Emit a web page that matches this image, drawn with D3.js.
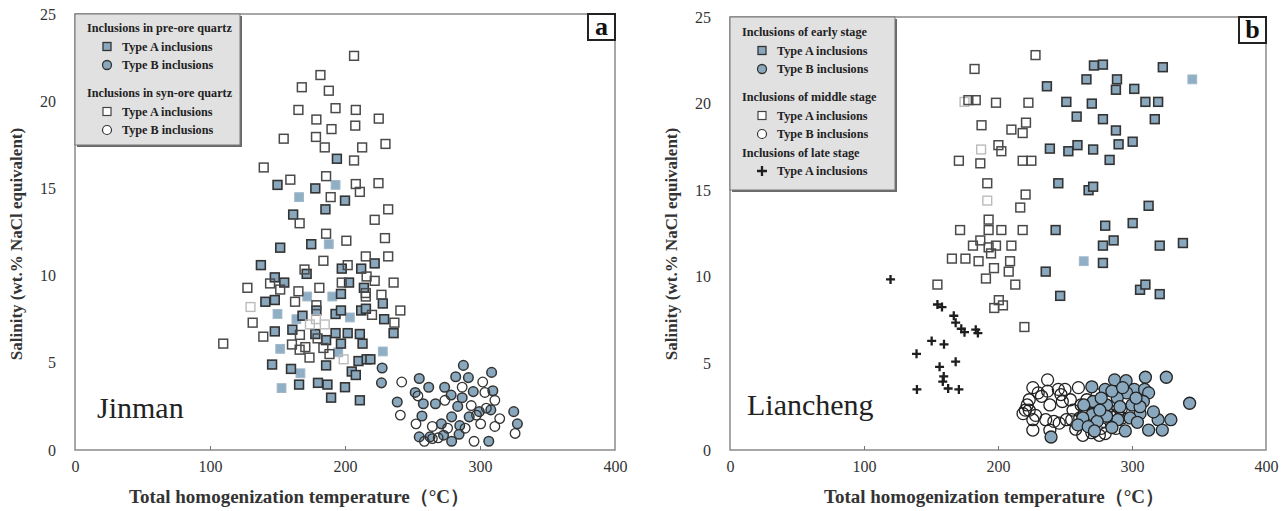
<!DOCTYPE html>
<html>
<head>
<meta charset="utf-8">
<script src="https://cdn.jsdelivr.net/npm/d3@7"></script>
<style>
  body { margin: 0; background: #fff; }
  svg { display: block; }
  text { font-family: "Liberation Serif", "DejaVu Serif", serif; }
</style>
</head>
<body>
<script>
// ---- data: [temperature °C, salinity wt.%] ----

// panel a, Jinman, pre-ore quartz
var aPreA = [[150,15.2],[178,15.0],[194,16.7],[185.5,13.8],[200,14.3],[161.6,13.5],[175,11.8],[152,11.6],
  [137.7,10.6],[171.6,10.1],[148,9.9],[155,9.6],[197.6,10.4],[212,10.4],[222,10.7],[203,9.6],[197,8.95],
  [214,9.3],[141,8.5],[148,8.6],[178.8,8.0],[168.5,7.7],[193,7.8],[197,8.0],[212,8.0],[215.5,8.1],
  [228,8.4],[229,7.5],[148,6.8],[161,6.9],[178,6.65],[186,6.3],[193,6.7],[202,6.7],[211,6.65],[213,6.1],
  [236,6.7],[197,6.1],[146,4.9],[160,4.65],[186,4.85],[210,5.1],[216,5.2],[218.8,5.2],[205,4.5],[208,4.3],
  [166,3.75],[180,3.85],[187,3.75],[200,3.6],[189.7,3.0],[211,2.85]];
var aPreALight = [[193,15.2],[166,14.5],[188,11.8],[172,8.8],[190.6,8.8],[150,7.8],[164,7.5],[203.6,7.6],
  [152,5.8],[195,5.6],[228,5.65],[167,4.4],[153,3.55]];
var aPreB = [[227.5,4.7],[227,3.85],[238.7,2.75],[255,4.1],[252,3.3],[262,3.6],[258,2.65],[257,1.95],
  [267,2.65],[273.8,3.6],[278.6,3.15],[282,4.2],[287.7,4.85],[291.4,4.15],[295,3.35],[308.6,4.45],
  [309.5,3.4],[283.5,2.5],[286.8,3.0],[325,2.2],[327.7,1.5],[271.4,1.5],[273,0.85],[279,1.9],[285,1.4],
  [279,0.5],[284.5,0.9],[263,0.75],[255,0.75],[306.5,0.5],[292,1.9],[308,2.3],[299.5,2.2]];

// panel a, Jinman, syn-ore quartz
var aSynA = [[206.7,22.6],[181.8,21.5],[168,20.8],[188,20.6],[165.5,19.5],[193,19.6],[208,19.5],
  [178.8,18.95],[225,19.0],[190,18.4],[207.6,18.6],[154.6,17.85],[178.5,17.95],[185,17.35],[212.7,17.35],
  [230,17.55],[206.7,16.6],[139.8,16.2],[159.5,15.5],[186,15.7],[208,15.25],[211,14.8],[224.8,15.3],
  [189.4,14.5],[232,13.8],[222,13.2],[166.4,13.0],[186,12.4],[201,12.0],[229.6,12.15],[215.4,11.1],
  [232,11.1],[184,10.85],[170,10.35],[202,10.6],[216,9.95],[127.7,9.3],[144.5,9.55],[152,9.2],
  [165.5,9.1],[181,9.3],[197.6,9.6],[222,9.7],[236,9.6],[215.4,9.0],[215.4,8.8],[227,8.9],[163,8.5],
  [178.8,8.3],[241,8.0],[220,7.75],[131.6,7.3],[166.6,6.6],[236.6,7.3],[139.5,6.5],[179.7,6.4],
  [109.8,6.1],[160.7,6.05],[166.4,5.75],[170.6,5.9],[184,5.85],[188.5,5.5],[173.7,5.3]];
var aSynALight = [[130,8.2],[178.5,7.5],[174,7.2],[185,7.2],[199,5.2]];
var aSynB = [[242,3.9],[241,2.0],[252.6,1.5],[254,3.1],[258.8,0.5],[264.7,1.35],[269,0.7],[274,2.85],
  [286.8,3.6],[293.5,2.55],[302,3.9],[303.6,3.3],[311,2.85],[314.6,1.8],[311,1.35],[300.5,1.5],
  [295.6,0.5],[326,0.95],[289,1.25],[297.4,2.0],[304.7,2.4],[276,1.25],[264.7,0.65]];

// panel b, Liancheng
var bEarlyA = [[271.6,22.2],[278.3,22.25],[323,22.1],[236.5,21.0],[266,21.4],[288.8,21.4],[288,20.8],
  [301.7,20.85],[251,20.1],[270,20.0],[310,20.1],[319.5,20.1],[258.7,19.25],[278.3,19.1],[317,19.1],
  [288,18.45],[238.7,17.4],[259.3,17.6],[252.5,17.25],[271,17.35],[290,17.65],[300.5,17.8],[283.3,16.75],
  [245,15.4],[267.6,15.0],[271,15.2],[312.4,14.1],[300.5,13.1],[280,12.95],[243,12.7],[286.3,12.1],
  [278.3,11.8],[320.7,11.8],[338,11.95],[278.3,10.8],[235.6,10.3],[246.4,8.9],[306,9.25],[310,9.55],
  [320.7,9.0]];
var bEarlyALight = [[345,21.4],[264,10.9]];
var bEarlyB = [[325.6,4.2],[310,4.2],[343,2.7],[287,4.05],[295.6,4.0],[301.7,3.5],[309.4,3.5],[312.4,3.3],
  [296,3.3],[289,3.0],[280,3.5],[270,3.65],[271,2.8],[281,2.6],[291,2.5],[300,2.6],[308.5,2.8],[306,2.1],
  [298.6,1.85],[289.4,1.75],[281,1.95],[270.3,2.05],[263.3,1.85],[259.6,1.45],[274,1.65],[267.3,1.35],
  [319.5,1.75],[329,1.75],[312.4,1.15],[322.6,1.15],[239.6,0.75],[306,2.5],[277,3.0],[285,3.4],
  [293,3.6],[303,3.0],[316,2.2],[276,2.3],[285,1.3],[295,1.1],[304,1.6],[264,2.6],[272,1.1]];
var bMidA = [[228,22.8],[182.5,22.0],[177.9,20.2],[183.4,20.2],[198.5,20.05],[222.7,20.05],[187.7,18.75],
  [210,18.5],[218.4,18.3],[220.9,18.9],[200.3,17.6],[202.5,17.25],[170.8,16.7],[186.8,16.55],[218.4,16.7],
  [224.9,16.7],[192,15.4],[220.6,14.75],[216.6,14.0],[193,13.3],[171.7,12.7],[193,12.7],[202.5,12.7],
  [218.4,12.7],[186.8,12.1],[181.3,11.8],[193,11.7],[198.5,11.8],[210,11.8],[194.8,11.35],[165.6,11.05],
  [175.7,11.05],[185.5,10.9],[209,10.9],[197,10.5],[208,10.3],[191,9.9],[154.8,9.55],[212.9,9.55],
  [200.6,8.65],[197.2,8.2],[203.7,8.35],[219.7,7.1]];
var bMidALight = [[175,20.1],[187.4,17.35],[192,14.4]];
var bMidB = [[237,4.05],[226,3.6],[245,3.5],[250,3.5],[260,3.6],[254,2.9],[237,3.4],[232.5,3.1],
  [223.3,2.9],[221.8,2.6],[220.4,2.3],[218.7,2.1],[223.3,2.3],[238.7,2.6],[248,2.8],[235.6,1.75],
  [226,1.75],[226,1.15],[238.7,1.15],[245.7,1.55],[255,1.75],[263.3,0.85],[275.6,0.85],[284.8,1.45],
  [278.6,1.65],[266.3,2.2],[261,1.85],[271,1.75],[283.3,2.05],[278.6,2.3],[272.4,2.5],[266.3,2.9],
  [292.5,1.85],[289.4,2.1],[283.3,2.8],[274,3.2],[289.4,3.5],[241.7,1.65],[251,1.75],[268,1.45],
  [277,1.25],[288,1.25],[230,3.3],[228,2.0],[247,3.2],[256,2.3],[262,2.6],[270,1.0],[280,0.95],
  [285,1.9],[292,2.4],[258,1.2]];
var bLateA = [[119.8,9.85],[154.8,8.4],[158.2,8.25],[167,7.75],[168.4,7.35],[172.6,7.0],[175,6.8],
  [183.4,6.95],[185,6.75],[150.5,6.3],[159.7,6.1],[139.2,5.55],[168.4,5.1],[156.4,4.8],[159.5,4.25],
  [158.8,3.95],[162.8,3.55],[139.5,3.5],[170.8,3.5]];

var xTicks = [0, 100, 200, 300, 400];
var yTicks = [0, 5, 10, 15, 20, 25];

var legendA = [
  {text: "Inclusions in pre-ore quartz", head: true},
  {text: "Type A  inclusions", mark: "sqFill"},
  {text: "Type  B  inclusions", mark: "ciFill"},
  {text: "Inclusions in syn-ore quartz", head: true, gap: true},
  {text: "Type A  inclusions", mark: "sqOpen"},
  {text: "Type  B  inclusions", mark: "ciOpen"}
];
var legendB = [
  {text: "Inclusions of early stage", head: true},
  {text: "Type A  inclusions", mark: "sqFill"},
  {text: "Type  B  inclusions", mark: "ciFill"},
  {text: "Inclusions of middle stage", head: true, gap: true},
  {text: "Type A  inclusions", mark: "sqOpen"},
  {text: "Type  B  inclusions", mark: "ciOpen"},
  {text: "Inclusions of late stage", head: true},
  {text: "Type A  inclusions", mark: "cross"}
];

var W = 1284, H = 511;
var blue = "#8aa8bd";

var svg = d3.select("body").append("svg")
  .attr("width", W)
  .attr("height", H);

// draw the markers
var squares = function(g, data, x, y, size, fill, stroke, sw) {
  g.append("g").selectAll("rect")
    .data(data)
    .enter()
    .append("rect")
    .attr("x", function(d){ return x(d[0]) - size / 2; })
    .attr("y", function(d){ return y(d[1]) - size / 2; })
    .attr("width", size)
    .attr("height", size)
    .attr("fill", fill)
    .attr("stroke", stroke)
    .attr("stroke-width", sw);
};

var circles = function(g, data, x, y, r, fill, stroke, sw) {
  g.append("g").selectAll("circle")
    .data(data)
    .enter()
    .append("circle")
    .attr("cx", function(d){ return x(d[0]); })
    .attr("cy", function(d){ return y(d[1]); })
    .attr("r", r)
    .attr("fill", fill)
    .attr("stroke", stroke)
    .attr("stroke-width", sw);
};

var crosses = function(g, data, x, y, arm) {
  g.append("g").selectAll("path")
    .data(data)
    .enter()
    .append("path")
    .attr("d", function(d){
      var cx = x(d[0]), cy = y(d[1]);
      return "M" + (cx - arm) + "," + cy + "H" + (cx + arm) + "M" + cx + "," + (cy - arm) + "V" + (cy + arm);
    })
    .attr("stroke", "#1e1e1e")
    .attr("stroke-width", 2.3);
};

var legendMark = function(g, type, cx, cy) {
  if (type == "sqFill") {
    g.append("rect").attr("x", cx - 4).attr("y", cy - 4).attr("width", 8).attr("height", 8)
      .attr("fill", blue).attr("stroke", "#333").attr("stroke-width", 1.3);
  } else if (type == "sqOpen") {
    g.append("rect").attr("x", cx - 4).attr("y", cy - 4).attr("width", 8).attr("height", 8)
      .attr("fill", "#fff").attr("stroke", "#444").attr("stroke-width", 1.2);
  } else if (type == "ciFill") {
    g.append("circle").attr("cx", cx).attr("cy", cy).attr("r", 4.5)
      .attr("fill", blue).attr("stroke", "#333").attr("stroke-width", 1.3);
  } else if (type == "ciOpen") {
    g.append("circle").attr("cx", cx).attr("cy", cy).attr("r", 4.5)
      .attr("fill", "#fff").attr("stroke", "#333").attr("stroke-width", 1.2);
  } else {
    g.append("path").attr("d", "M" + (cx - 5) + "," + cy + "H" + (cx + 5) + "M" + cx + "," + (cy - 5) + "V" + (cy + 5))
      .attr("stroke", "#1e1e1e").attr("stroke-width", 2.3);
  }
};

var drawPanel = function(p) {
  var x = d3.scaleLinear().domain([0, 400]).range([p.left, p.right]);
  var y = d3.scaleLinear().domain([0, 25]).range([450, p.top]);
  var g = svg.append("g");

  // frame
  g.append("rect")
    .attr("x", p.left).attr("y", p.top)
    .attr("width", p.right - p.left).attr("height", 450 - p.top)
    .attr("fill", "none").attr("stroke", "#8a8a8a").attr("stroke-width", 1.5);

  // axes
  var xa = g.append("g").attr("transform", "translate(0,450)")
    .call(d3.axisBottom(x).tickValues(xTicks).tickSizeInner(-4).tickSizeOuter(0).tickPadding(11));
  var ya = g.append("g").attr("transform", "translate(" + p.left + ",0)")
    .call(d3.axisLeft(y).tickValues(yTicks).tickSize(0).tickPadding(19));
  [xa, ya].forEach(function(a){
    a.select(".domain").remove();
    a.selectAll("line").attr("stroke", "#777");
    a.selectAll("text").style("font-family", "Liberation Serif, serif").style("font-size", "16px").attr("fill", "#333");
  });
  xa.selectAll("line").filter(function(d){ return d == 0 || d == 400; }).remove();

  // axis titles
  g.append("text")
    .attr("x", p.titleX).attr("y", 503)
    .attr("text-anchor", "middle")
    .style("font-size", "19px").style("font-weight", "bold").attr("fill", "#333")
    .text("Total homogenization  temperature\uFF08\u00B0C\uFF09");
  g.append("text")
    .attr("transform", "translate(" + (p.left - 53) + "," + 244 + ") rotate(-90)")
    .attr("text-anchor", "middle")
    .style("font-size", "17px").style("font-weight", "bold").attr("fill", "#333")
    .text("Salinity (wt.% NaCl equivalent)");

  // markers
  p.marks(g, x, y);

  // panel letter
  g.append("rect").attr("x", p.right - 27).attr("y", p.top).attr("width", 27).attr("height", 26)
    .attr("fill", "#fff").attr("stroke", "#222").attr("stroke-width", 2);
  g.append("text").attr("x", p.right - 13.5).attr("y", p.top + 21)
    .attr("text-anchor", "middle").style("font-size", "26px").style("font-weight", "bold")
    .attr("fill", "#111").text(p.letter);

  // site name
  g.append("text").attr("x", p.left + p.siteDx).attr("y", p.siteY)
    .style("font-size", "30px").attr("fill", "#222").text(p.site);

  // legend
  var lg = g.append("g");
  lg.append("rect").attr("x", p.left + 2).attr("y", p.top + 2)
    .attr("width", p.legW).attr("height", p.legH).attr("fill", "#6a6a6a");
  lg.append("rect").attr("x", p.left).attr("y", p.top)
    .attr("width", p.legW).attr("height", p.legH)
    .attr("fill", "#e1e1e1").attr("stroke", "#777").attr("stroke-width", 1);
  var ly = p.top + p.legY0;
  p.legend.forEach(function(item, i){
    if (i > 0) ly += item.gap ? 28 : 18.5;
    if (item.head) {
      lg.append("text").attr("x", p.left + p.legPad).attr("y", ly + 4)
        .style("font-size", "12.2px").attr("fill", "#222").style("font-weight", "600")
        .text(item.text);
    } else {
      legendMark(lg, item.mark, p.left + p.legPad + 20, ly);
      lg.append("text").attr("x", p.left + p.legPad + 35).attr("y", ly + 4)
        .style("font-size", "12.2px").attr("fill", "#222").style("font-weight", "600")
        .text(item.text);
    }
  });
};

drawPanel({
  left: 75, right: 615, top: 14, letter: "a", site: "Jinman", siteDx: 22, siteY: 418, titleX: 299,
  legend: legendA, legW: 165, legH: 131, legY0: 14, legPad: 12,
  marks: function(g, x, y) {
    squares(g, aPreALight, x, y, 8.8, "#90afc4", "#9fb8ca", 1);
    squares(g, aPreA, x, y, 8.8, blue, "#333", 1.6);
    squares(g, aSynALight, x, y, 8.8, "none", "#bbb", 1.4);
    squares(g, aSynA, x, y, 8.8, "none", "#4a4a4a", 1.5);
    circles(g, aPreB, x, y, 4.8, blue, "#333", 1.5);
    circles(g, aSynB, x, y, 4.8, "none", "#333", 1.3);
  }
});

drawPanel({
  left: 730, right: 1266, top: 17, letter: "b", site: "Liancheng", siteDx: 17, siteY: 415, titleX: 994,
  legend: legendB, legW: 165, legH: 173, legY0: 15, legPad: 12,
  marks: function(g, x, y) {
    squares(g, bEarlyALight, x, y, 8.8, "#90afc4", "#9fb8ca", 1);
    squares(g, bEarlyA, x, y, 8.8, blue, "#333", 1.6);
    squares(g, bMidALight, x, y, 8.8, "none", "#bbb", 1.4);
    squares(g, bMidA, x, y, 8.8, "none", "#4a4a4a", 1.5);
    circles(g, bMidB, x, y, 6, "none", "#222", 1.3);
    circles(g, bEarlyB, x, y, 6, blue, "#222", 1.3);
    crosses(g, bLateA, x, y, 4.5);
  }
});
</script>
</body>
</html>
